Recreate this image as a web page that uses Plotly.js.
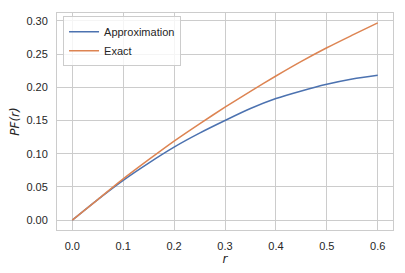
<!DOCTYPE html>
<html>
<head>
<meta charset="utf-8">
<script src="https://cdn.plot.ly/plotly-3.0.1.min.js"></script>
<style>html,body{margin:0;padding:0;background:#fff;}#chart{width:405px;height:273px;}</style>
</head>
<body>
<div id="chart"></div>
<script>
var r = [0, 0.05, 0.10, 0.15, 0.20, 0.25, 0.30, 0.35, 0.40, 0.45, 0.50, 0.55, 0.60];
var approximation = [0, 0.031, 0.060, 0.086, 0.110, 0.131, 0.150, 0.168, 0.183, 0.1945, 0.2045, 0.2125, 0.218];
var exact = [0, 0.031, 0.062, 0.091, 0.119, 0.145, 0.170, 0.194, 0.217, 0.239, 0.2595, 0.2785, 0.297];
var xTicks = [0, 0.1, 0.2, 0.3, 0.4, 0.5, 0.6];
var yTicks = [0, 0.05, 0.10, 0.15, 0.20, 0.25, 0.30];

var traces = [
  {x: r, y: approximation, name: 'Approximation', mode: 'lines', line: {color: '#4c72b0', width: 1.5, shape: 'spline', smoothing: 0.8}},
  {x: r, y: exact, name: 'Exact', mode: 'lines', line: {color: '#dd8452', width: 1.5, shape: 'spline', smoothing: 0.8}}
];

var font = {family: 'Liberation Sans, Arial, sans-serif', size: 11, color: '#262626'};

var layout = {
  width: 405, height: 273,
  margin: {l: 57, r: 12, t: 13, b: 43},
  paper_bgcolor: '#fff', plot_bgcolor: '#fff',
  font: font,
  showlegend: true,
  legend: {x: 0.018, y: 0.985, xanchor: 'left', yanchor: 'top', bgcolor: 'rgba(255,255,255,0.8)',
           bordercolor: '#cccccc', borderwidth: 1, font: font, itemwidth: 30, tracegroupgap: 0},
  xaxis: {
    range: [-0.03, 0.63], tickvals: xTicks, ticktext: xTicks.map(function(v){return v.toFixed(1);}),
    showgrid: true, gridcolor: '#cccccc', gridwidth: 1, zeroline: false,
    showline: true, linecolor: '#cccccc', linewidth: 1, mirror: true,
    ticks: '', ticklabelstandoff: 6, tickfont: font,
    title: {text: '<i>r</i>', font: {family: 'DejaVu Sans, sans-serif', size: 12, color: '#262626'}, standoff: 3}
  },
  yaxis: {
    range: [-0.01485, 0.31185], tickvals: yTicks, ticktext: yTicks.map(function(v){return v.toFixed(2);}),
    showgrid: true, gridcolor: '#cccccc', gridwidth: 1, zeroline: false,
    showline: true, linecolor: '#cccccc', linewidth: 1, mirror: true,
    ticks: '', ticklabelstandoff: 6, tickfont: font,
    title: {text: '<i>PF(r)</i>', font: {family: 'DejaVu Sans, sans-serif', size: 12, color: '#262626'}, standoff: 4}
  }
};

Plotly.newPlot('chart', traces, layout, {displayModeBar: false, staticPlot: true});
</script>
</body>
</html>
